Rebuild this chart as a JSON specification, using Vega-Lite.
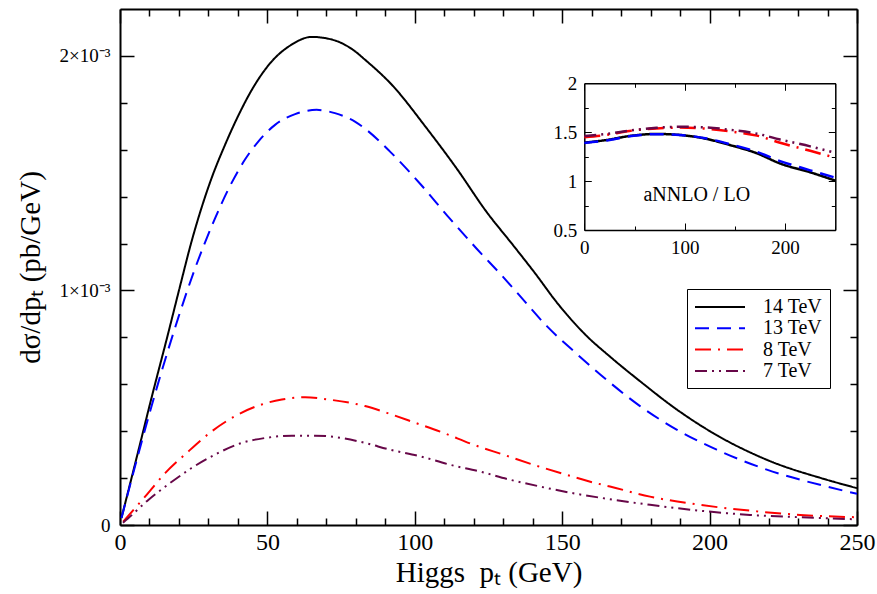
{
  "$schema": "https://vega.github.io/schema/vega-lite/v6.json",
  "width": 737,
  "height": 516,
  "autosize": {"type": "none"},
  "padding": {"left": 120, "top": 9, "right": 20, "bottom": 69},
  "config": {
    "view": {"stroke": null},
    "axis": {"grid": false, "domainColor": "black", "tickColor": "black", "labelColor": "black", "titleColor": "black", "labelFont": "Liberation Serif", "titleFont": "Liberation Serif", "titleFontWeight": "normal", "labelOverlap": false, "labelFlush": false}
  },
  "datasets": {
    "main": [
      {"pt": 0.5, "dsigma": 0.00003, "series": "14 TeV"},
      {"pt": 5.7, "dsigma": 0.00029, "series": "14 TeV"},
      {"pt": 10.75, "dsigma": 0.000545, "series": "14 TeV"},
      {"pt": 16.4, "dsigma": 0.00082, "series": "14 TeV"},
      {"pt": 20.4, "dsigma": 0.00102, "series": "14 TeV"},
      {"pt": 24.3, "dsigma": 0.00121, "series": "14 TeV"},
      {"pt": 31.1, "dsigma": 0.00148, "series": "14 TeV"},
      {"pt": 35.6, "dsigma": 0.00162, "series": "14 TeV"},
      {"pt": 40.7, "dsigma": 0.00176, "series": "14 TeV"},
      {"pt": 44.7, "dsigma": 0.001855, "series": "14 TeV"},
      {"pt": 51.5, "dsigma": 0.001977, "series": "14 TeV"},
      {"pt": 58.2, "dsigma": 0.002048, "series": "14 TeV"},
      {"pt": 65.0, "dsigma": 0.002081, "series": "14 TeV"},
      {"pt": 71.8, "dsigma": 0.00207, "series": "14 TeV"},
      {"pt": 79.7, "dsigma": 0.00202, "series": "14 TeV"},
      {"pt": 83.1, "dsigma": 0.001984, "series": "14 TeV"},
      {"pt": 92.2, "dsigma": 0.001877, "series": "14 TeV"},
      {"pt": 104.0, "dsigma": 0.001692, "series": "14 TeV"},
      {"pt": 114.2, "dsigma": 0.00152, "series": "14 TeV"},
      {"pt": 124.4, "dsigma": 0.001334, "series": "14 TeV"},
      {"pt": 133.4, "dsigma": 0.001192, "series": "14 TeV"},
      {"pt": 141.0, "dsigma": 0.00107, "series": "14 TeV"},
      {"pt": 148.1, "dsigma": 0.00095, "series": "14 TeV"},
      {"pt": 158.3, "dsigma": 0.000806, "series": "14 TeV"},
      {"pt": 166.2, "dsigma": 0.000718, "series": "14 TeV"},
      {"pt": 176.4, "dsigma": 0.000613, "series": "14 TeV"},
      {"pt": 188.8, "dsigma": 0.000493, "series": "14 TeV"},
      {"pt": 200.1, "dsigma": 0.0004, "series": "14 TeV"},
      {"pt": 219.4, "dsigma": 0.000278, "series": "14 TeV"},
      {"pt": 239.7, "dsigma": 0.000193, "series": "14 TeV"},
      {"pt": 250, "dsigma": 0.000157, "series": "14 TeV"},

      {"pt": 0.5, "dsigma": 0.00003, "series": "13 TeV"},
      {"pt": 5.1, "dsigma": 0.00025, "series": "13 TeV"},
      {"pt": 13.0, "dsigma": 0.000607, "series": "13 TeV"},
      {"pt": 19.8, "dsigma": 0.000885, "series": "13 TeV"},
      {"pt": 25.4, "dsigma": 0.001092, "series": "13 TeV"},
      {"pt": 32.2, "dsigma": 0.001306, "series": "13 TeV"},
      {"pt": 36.7, "dsigma": 0.00143, "series": "13 TeV"},
      {"pt": 42.4, "dsigma": 0.001558, "series": "13 TeV"},
      {"pt": 46.9, "dsigma": 0.001635, "series": "13 TeV"},
      {"pt": 52.6, "dsigma": 0.001706, "series": "13 TeV"},
      {"pt": 59.4, "dsigma": 0.001752, "series": "13 TeV"},
      {"pt": 66.7, "dsigma": 0.00177, "series": "13 TeV"},
      {"pt": 72.9, "dsigma": 0.001756, "series": "13 TeV"},
      {"pt": 79.7, "dsigma": 0.00172, "series": "13 TeV"},
      {"pt": 83.1, "dsigma": 0.00169, "series": "13 TeV"},
      {"pt": 91.6, "dsigma": 0.001592, "series": "13 TeV"},
      {"pt": 101.8, "dsigma": 0.001455, "series": "13 TeV"},
      {"pt": 111.9, "dsigma": 0.001306, "series": "13 TeV"},
      {"pt": 121.0, "dsigma": 0.001178, "series": "13 TeV"},
      {"pt": 130.0, "dsigma": 0.001057, "series": "13 TeV"},
      {"pt": 134.6, "dsigma": 0.000992, "series": "13 TeV"},
      {"pt": 144.7, "dsigma": 0.000849, "series": "13 TeV"},
      {"pt": 154.9, "dsigma": 0.00073, "series": "13 TeV"},
      {"pt": 166.2, "dsigma": 0.000607, "series": "13 TeV"},
      {"pt": 176.4, "dsigma": 0.000507, "series": "13 TeV"},
      {"pt": 188.8, "dsigma": 0.000407, "series": "13 TeV"},
      {"pt": 202.4, "dsigma": 0.000321, "series": "13 TeV"},
      {"pt": 219.4, "dsigma": 0.000236, "series": "13 TeV"},
      {"pt": 239.7, "dsigma": 0.000164, "series": "13 TeV"},
      {"pt": 250, "dsigma": 0.000133, "series": "13 TeV"},

      {"pt": 1.1, "dsigma": 0.000014, "series": "8 TeV"},
      {"pt": 8.5, "dsigma": 0.000121, "series": "8 TeV"},
      {"pt": 15.3, "dsigma": 0.000221, "series": "8 TeV"},
      {"pt": 22.6, "dsigma": 0.000307, "series": "8 TeV"},
      {"pt": 31.1, "dsigma": 0.000399, "series": "8 TeV"},
      {"pt": 39.0, "dsigma": 0.000464, "series": "8 TeV"},
      {"pt": 48.1, "dsigma": 0.000514, "series": "8 TeV"},
      {"pt": 54.9, "dsigma": 0.000535, "series": "8 TeV"},
      {"pt": 62.8, "dsigma": 0.000545, "series": "8 TeV"},
      {"pt": 70.7, "dsigma": 0.000535, "series": "8 TeV"},
      {"pt": 83.1, "dsigma": 0.000507, "series": "8 TeV"},
      {"pt": 90.5, "dsigma": 0.000478, "series": "8 TeV"},
      {"pt": 100.1, "dsigma": 0.000436, "series": "8 TeV"},
      {"pt": 109.7, "dsigma": 0.000393, "series": "8 TeV"},
      {"pt": 119.8, "dsigma": 0.000343, "series": "8 TeV"},
      {"pt": 130.0, "dsigma": 0.0003, "series": "8 TeV"},
      {"pt": 140.2, "dsigma": 0.000257, "series": "8 TeV"},
      {"pt": 150.4, "dsigma": 0.000218, "series": "8 TeV"},
      {"pt": 160.6, "dsigma": 0.000181, "series": "8 TeV"},
      {"pt": 166.2, "dsigma": 0.000164, "series": "8 TeV"},
      {"pt": 179.8, "dsigma": 0.000121, "series": "8 TeV"},
      {"pt": 196.7, "dsigma": 0.000086, "series": "8 TeV"},
      {"pt": 213.7, "dsigma": 0.000061, "series": "8 TeV"},
      {"pt": 230.7, "dsigma": 0.000043, "series": "8 TeV"},
      {"pt": 250, "dsigma": 0.000033, "series": "8 TeV"},

      {"pt": 1.0, "dsigma": 0.00001, "series": "7 TeV"},
      {"pt": 2.8, "dsigma": 0.000029, "series": "7 TeV"},
      {"pt": 9.6, "dsigma": 0.000107, "series": "7 TeV"},
      {"pt": 17.0, "dsigma": 0.000179, "series": "7 TeV"},
      {"pt": 24.3, "dsigma": 0.000243, "series": "7 TeV"},
      {"pt": 32.2, "dsigma": 0.0003, "series": "7 TeV"},
      {"pt": 41.3, "dsigma": 0.00035, "series": "7 TeV"},
      {"pt": 49.2, "dsigma": 0.000371, "series": "7 TeV"},
      {"pt": 58.3, "dsigma": 0.000381, "series": "7 TeV"},
      {"pt": 66.1, "dsigma": 0.000381, "series": "7 TeV"},
      {"pt": 75.2, "dsigma": 0.000371, "series": "7 TeV"},
      {"pt": 83.1, "dsigma": 0.00035, "series": "7 TeV"},
      {"pt": 91.6, "dsigma": 0.000321, "series": "7 TeV"},
      {"pt": 101.8, "dsigma": 0.000293, "series": "7 TeV"},
      {"pt": 111.9, "dsigma": 0.000257, "series": "7 TeV"},
      {"pt": 122.1, "dsigma": 0.000228, "series": "7 TeV"},
      {"pt": 132.3, "dsigma": 0.000193, "series": "7 TeV"},
      {"pt": 142.5, "dsigma": 0.000164, "series": "7 TeV"},
      {"pt": 152.6, "dsigma": 0.000138, "series": "7 TeV"},
      {"pt": 166.2, "dsigma": 0.00011, "series": "7 TeV"},
      {"pt": 179.8, "dsigma": 0.000086, "series": "7 TeV"},
      {"pt": 196.7, "dsigma": 0.000061, "series": "7 TeV"},
      {"pt": 213.7, "dsigma": 0.000043, "series": "7 TeV"},
      {"pt": 230.7, "dsigma": 0.000033, "series": "7 TeV"},
      {"pt": 250, "dsigma": 0.000024, "series": "7 TeV"}
    ],
    "inset": [
      {"pt": 0, "ratio": 1.393, "series": "14 TeV"},
      {"pt": 22, "ratio": 1.42, "series": "14 TeV"},
      {"pt": 45, "ratio": 1.461, "series": "14 TeV"},
      {"pt": 72, "ratio": 1.482, "series": "14 TeV"},
      {"pt": 95, "ratio": 1.472, "series": "14 TeV"},
      {"pt": 122, "ratio": 1.431, "series": "14 TeV"},
      {"pt": 145, "ratio": 1.369, "series": "14 TeV"},
      {"pt": 172, "ratio": 1.284, "series": "14 TeV"},
      {"pt": 195, "ratio": 1.18, "series": "14 TeV"},
      {"pt": 225, "ratio": 1.09, "series": "14 TeV"},
      {"pt": 250, "ratio": 1.005, "series": "14 TeV"},

      {"pt": 0, "ratio": 1.39, "series": "13 TeV"},
      {"pt": 22, "ratio": 1.415, "series": "13 TeV"},
      {"pt": 45, "ratio": 1.458, "series": "13 TeV"},
      {"pt": 72, "ratio": 1.48, "series": "13 TeV"},
      {"pt": 95, "ratio": 1.472, "series": "13 TeV"},
      {"pt": 122, "ratio": 1.435, "series": "13 TeV"},
      {"pt": 145, "ratio": 1.378, "series": "13 TeV"},
      {"pt": 172, "ratio": 1.298, "series": "13 TeV"},
      {"pt": 195, "ratio": 1.205, "series": "13 TeV"},
      {"pt": 225, "ratio": 1.11, "series": "13 TeV"},
      {"pt": 250, "ratio": 1.035, "series": "13 TeV"},

      {"pt": 0, "ratio": 1.448, "series": "8 TeV"},
      {"pt": 22, "ratio": 1.472, "series": "8 TeV"},
      {"pt": 45, "ratio": 1.513, "series": "8 TeV"},
      {"pt": 72, "ratio": 1.538, "series": "8 TeV"},
      {"pt": 95, "ratio": 1.547, "series": "8 TeV"},
      {"pt": 122, "ratio": 1.535, "series": "8 TeV"},
      {"pt": 145, "ratio": 1.508, "series": "8 TeV"},
      {"pt": 172, "ratio": 1.465, "series": "8 TeV"},
      {"pt": 195, "ratio": 1.392, "series": "8 TeV"},
      {"pt": 225, "ratio": 1.31, "series": "8 TeV"},
      {"pt": 246, "ratio": 1.25, "series": "8 TeV"},

      {"pt": 0, "ratio": 1.461, "series": "7 TeV"},
      {"pt": 22, "ratio": 1.482, "series": "7 TeV"},
      {"pt": 45, "ratio": 1.516, "series": "7 TeV"},
      {"pt": 72, "ratio": 1.545, "series": "7 TeV"},
      {"pt": 95, "ratio": 1.556, "series": "7 TeV"},
      {"pt": 122, "ratio": 1.548, "series": "7 TeV"},
      {"pt": 145, "ratio": 1.525, "series": "7 TeV"},
      {"pt": 172, "ratio": 1.485, "series": "7 TeV"},
      {"pt": 195, "ratio": 1.425, "series": "7 TeV"},
      {"pt": 225, "ratio": 1.355, "series": "7 TeV"},
      {"pt": 246, "ratio": 1.3, "series": "7 TeV"}
    ]
  },
  "layer": [
    {
      "layer": [
        {
          "data": {"name": "main"},
          "mark": {"type": "line", "strokeWidth": 2, "interpolate": "monotone"},
          "encoding": {
            "x": {"field": "pt", "type": "quantitative", "scale": {"domain": [0, 250], "nice": false, "zero": false},
              "axis": {"orient": "bottom", "values": [0, 50, 100, 150, 200, 250], "tickSize": -14, "tickWidth": 1.5, "domainWidth": 2,
                "labelPadding": 19, "labelFontSize": 24,
                "title": "Higgs\u00a0 pₜ (GeV)", "titleFontSize": 29, "titlePadding": 4}},
            "y": {"field": "dsigma", "type": "quantitative", "scale": {"domain": [0, 0.0022], "nice": false, "zero": false},
              "axis": {"orient": "left", "values": [0, 0.001, 0.002], "tickSize": -14, "tickWidth": 1.5, "domainWidth": 2,
                "labelExpr": "datum.value < 0.0005 ? '0' : datum.value < 0.0015 ? '1×10⁻³' : '2×10⁻³'",
                "labelPadding": 24, "labelFontSize": 19,
                "title": "dσ/dpₜ (pb/GeV)", "titleFontSize": 29, "titlePadding": 14}},
            "color": {"field": "series", "type": "nominal",
              "scale": {"domain": ["14 TeV", "13 TeV", "8 TeV", "7 TeV"], "range": ["#000000", "#0000ff", "#ff0000", "#670748"]},
              "legend": {"orient": "none", "legendX": 567, "legendY": 280, "title": null, "fillColor": "white", "strokeColor": "black", "padding": 7,
                "labelFont": "Liberation Serif", "labelFontSize": 20, "labelColor": "black", "symbolType": "M-1,0H4", "symbolSize": 400, "symbolStrokeWidth": 2,
                "labelOffset": 47, "rowPadding": 0.3, "labelExpr": "length(datum.label) < 6 ? '\u2007' + datum.label : datum.label"}},
            "strokeDash": {"field": "series", "type": "nominal",
              "scale": {"domain": ["14 TeV", "13 TeV", "8 TeV", "7 TeV"], "range": [[1, 0], [14, 8], [16, 7, 2, 7], [12, 5, 2, 5, 2, 5]]},
              "legend": {"orient": "none", "legendX": 567, "legendY": 280, "title": null, "fillColor": "white", "strokeColor": "black", "padding": 7,
                "labelFont": "Liberation Serif", "labelFontSize": 20, "labelColor": "black", "symbolType": "M-1,0H4", "symbolSize": 400, "symbolStrokeWidth": 2,
                "labelOffset": 47, "rowPadding": 0.3, "labelExpr": "length(datum.label) < 6 ? '\u2007' + datum.label : datum.label"}}
          }
        },
        {
          "data": {"name": "main"},
          "mark": {"type": "line", "opacity": 0},
          "encoding": {
            "x": {"field": "pt", "type": "quantitative", "scale": {"domain": [0, 250], "nice": false, "zero": false},
              "axis": {"orient": "bottom", "values": [10,20,30,40,60,70,80,90,110,120,130,140,160,170,180,190,210,220,230,240], "tickSize": -7, "tickWidth": 1.5, "domain": false, "labels": false, "title": null}},
            "y": {"field": "dsigma", "type": "quantitative", "scale": {"domain": [0, 0.0022], "nice": false, "zero": false},
              "axis": {"orient": "left", "values": [0.0002, 0.0004, 0.0006, 0.0008, 0.0012, 0.0014, 0.0016, 0.0018], "tickSize": -7, "tickWidth": 1.5, "domain": false, "labels": false, "title": null}},
            "detail": {"field": "series", "type": "nominal"}
          }
        },
        {
          "data": {"name": "main"},
          "mark": {"type": "line", "opacity": 0},
          "encoding": {
            "x": {"field": "pt", "type": "quantitative", "scale": {"domain": [0, 250], "nice": false, "zero": false},
              "axis": {"orient": "top", "values": [0, 50, 100, 150, 200, 250], "tickSize": -14, "tickWidth": 1.5, "domainWidth": 2, "labels": false, "title": null}},
            "y": {"field": "dsigma", "type": "quantitative", "scale": {"domain": [0, 0.0022], "nice": false, "zero": false},
              "axis": {"orient": "right", "values": [0, 0.001, 0.002], "tickSize": -14, "tickWidth": 1.5, "domainWidth": 2, "labels": false, "title": null}},
            "detail": {"field": "series", "type": "nominal"}
          }
        },
        {
          "data": {"name": "main"},
          "mark": {"type": "line", "opacity": 0},
          "encoding": {
            "x": {"field": "pt", "type": "quantitative", "scale": {"domain": [0, 250], "nice": false, "zero": false},
              "axis": {"orient": "top", "values": [10,20,30,40,60,70,80,90,110,120,130,140,160,170,180,190,210,220,230,240], "tickSize": -7, "tickWidth": 1.5, "domain": false, "labels": false, "title": null}},
            "y": {"field": "dsigma", "type": "quantitative", "scale": {"domain": [0, 0.0022], "nice": false, "zero": false},
              "axis": {"orient": "right", "values": [0.0002, 0.0004, 0.0006, 0.0008, 0.0012, 0.0014, 0.0016, 0.0018], "tickSize": -7, "tickWidth": 1.5, "domain": false, "labels": false, "title": null}},
            "detail": {"field": "series", "type": "nominal"}
          }
        }
      ],
      "resolve": {"axis": {"x": "independent", "y": "independent"}}
    },
    {
      "layer": [
        {
          "data": {"name": "inset"},
          "mark": {"type": "line", "strokeWidth": 2.5, "interpolate": "monotone"},
          "encoding": {
            "x": {"field": "pt", "type": "quantitative", "scale": {"domain": [0, 250], "range": [464.3, 715.3], "nice": false, "zero": false},
              "axis": {"orient": "bottom", "offset": -295, "values": [0, 100, 200], "tickSize": -7, "tickWidth": 1, "domainWidth": 1.5,
                "labelPadding": 15, "labelFontSize": 19, "title": null}},
            "y": {"field": "ratio", "type": "quantitative", "scale": {"domain": [0.5, 2], "range": [221, 74.3], "nice": false, "zero": false},
              "axis": {"orient": "left", "offset": -464.3, "values": [0.5, 1, 1.5, 2], "tickSize": -7, "tickWidth": 1, "domainWidth": 1.5,
                "labelExpr": "'' + datum.value", "labelPadding": 14.5, "labelFontSize": 19, "title": null}},
            "color": {"field": "series", "type": "nominal", "scale": {"domain": ["14 TeV", "13 TeV", "8 TeV", "7 TeV"], "range": ["#000000", "#0000ff", "#ff0000", "#670748"]}},
            "strokeDash": {"field": "series", "type": "nominal", "scale": {"domain": ["14 TeV", "13 TeV", "8 TeV", "7 TeV"], "range": [[1, 0], [14, 8], [16, 7, 2, 7], [12, 5, 2, 5, 2, 5]]}}
          }
        },
        {
          "data": {"values": [{}]},
          "mark": {"type": "text", "font": "Liberation Serif", "fontSize": 20, "color": "black"},
          "encoding": {
            "x": {"datum": 112, "type": "quantitative", "scale": {"domain": [0, 250], "range": [464.3, 715.3], "nice": false, "zero": false}, "axis": null},
            "y": {"datum": 0.86, "type": "quantitative", "scale": {"domain": [0.5, 2], "range": [221, 74.3], "nice": false, "zero": false}, "axis": null},
            "text": {"value": "aNNLO / LO"}
          }
        },
        {
          "data": {"name": "inset"},
          "mark": {"type": "line", "opacity": 0},
          "encoding": {
            "x": {"field": "pt", "type": "quantitative", "scale": {"domain": [0, 250], "range": [464.3, 715.3], "nice": false, "zero": false},
              "axis": {"orient": "bottom", "offset": -295, "values": [50, 150, 250], "tickSize": -4, "tickWidth": 1, "domain": false, "labels": false, "title": null}},
            "y": {"field": "ratio", "type": "quantitative", "scale": {"domain": [0.5, 2], "range": [221, 74.3], "nice": false, "zero": false},
              "axis": {"orient": "left", "offset": -464.3, "values": [0.75, 1.25, 1.75], "tickSize": -4, "tickWidth": 1, "domain": false, "labels": false, "title": null}},
            "detail": {"field": "series", "type": "nominal"}
          }
        },
        {
          "data": {"name": "inset"},
          "mark": {"type": "line", "opacity": 0},
          "encoding": {
            "x": {"field": "pt", "type": "quantitative", "scale": {"domain": [0, 250], "range": [464.3, 715.3], "nice": false, "zero": false},
              "axis": {"orient": "top", "offset": -74.3, "values": [0, 100, 200], "tickSize": -7, "tickWidth": 1, "domainWidth": 1.5, "labels": false, "title": null}},
            "y": {"field": "ratio", "type": "quantitative", "scale": {"domain": [0.5, 2], "range": [221, 74.3], "nice": false, "zero": false},
              "axis": {"orient": "right", "offset": -21.7, "values": [0.5, 1, 1.5, 2], "tickSize": -7, "tickWidth": 1, "domainWidth": 1.5, "labels": false, "title": null}},
            "detail": {"field": "series", "type": "nominal"}
          }
        },
        {
          "data": {"name": "inset"},
          "mark": {"type": "line", "opacity": 0},
          "encoding": {
            "x": {"field": "pt", "type": "quantitative", "scale": {"domain": [0, 250], "range": [464.3, 715.3], "nice": false, "zero": false},
              "axis": {"orient": "top", "offset": -74.3, "values": [50, 150, 250], "tickSize": -4, "tickWidth": 1, "domain": false, "labels": false, "title": null}},
            "y": {"field": "ratio", "type": "quantitative", "scale": {"domain": [0.5, 2], "range": [221, 74.3], "nice": false, "zero": false},
              "axis": {"orient": "right", "offset": -21.7, "values": [0.75, 1.25, 1.75], "tickSize": -4, "tickWidth": 1, "domain": false, "labels": false, "title": null}},
            "detail": {"field": "series", "type": "nominal"}
          }
        }
      ],
      "resolve": {"axis": {"x": "independent", "y": "independent"}}
    }
  ],
  "resolve": {"scale": {"x": "independent", "y": "independent"}}
}
